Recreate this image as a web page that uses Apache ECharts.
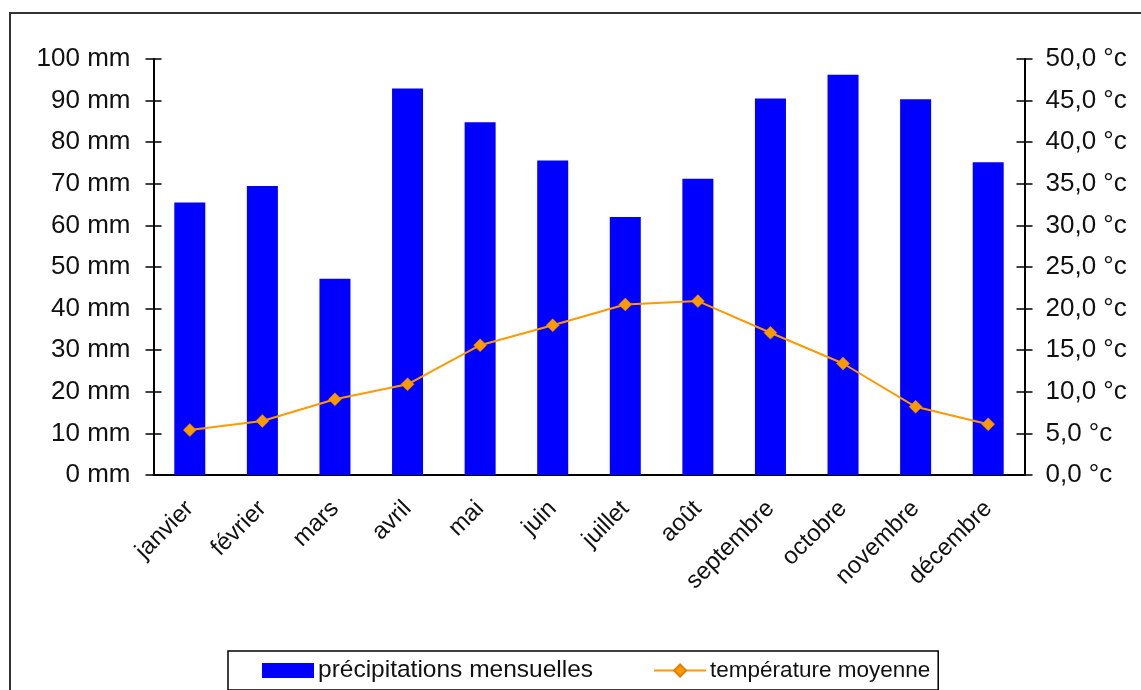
<!DOCTYPE html>
<html>
<head>
<meta charset="utf-8">
<script src="https://cdn.jsdelivr.net/npm/echarts@6/dist/echarts.min.js"></script>
<style>
    html, body { margin: 0; padding: 0; background: #fff; }
    #chart { width: 1141px; height: 690px; }
</style>
</head>
<body>
<div id="chart"></div>
<script>
    // mois
    const months = ['janvier', 'février', 'mars', 'avril', 'mai', 'juin',
        'juillet', 'août', 'septembre', 'octobre', 'novembre', 'décembre'];
    // précipitations (mm)
    const precipitations = [65.5, 69.5, 47.2, 92.9, 84.8, 75.6, 62.0, 71.2, 90.5, 96.2, 90.3, 75.2];
    // température (°c)
    const temperatures = [5.4, 6.5, 9.1, 10.9, 15.6, 18.0, 20.5, 20.9, 17.1, 13.4, 8.2, 6.1];

    const font = 'Liberation Sans';
    const tickStyle = { color: '#000', width: 1.5 };

    const chart = echarts.init(document.getElementById('chart'));

    const option = {
        animation: false,
        textStyle: { fontFamily: font },
        graphic: [{
            type: 'rect',
            shape: { x: 10, y: 13, width: 1150, height: 700 },
            style: { fill: 'none', stroke: '#333', lineWidth: 2 },
            silent: true
        }],
        grid: { left: 153.5, right: 116.5, top: 59, bottom: 215 },
        legend: {
            left: 228,
            top: 651,
            padding: [7, 8, 7, 34],
            itemGap: 60,
            itemWidth: 52,
            itemHeight: 15,
            borderColor: '#000',
            borderWidth: 1.5,
            textStyle: { fontFamily: font, fontSize: 24, color: '#111', padding: [0, 0, 0, -1] },
            data: [
                { name: 'précipitations mensuelles', icon: 'rect', textStyle: { fontSize: 24.5 } },
                { name: 'température moyenne', textStyle: { fontSize: 22.5 } }
            ]
        },
        xAxis: [{
            type: 'category',
            data: months,
            axisLine: { lineStyle: { color: '#000', width: 2 } },
            axisTick: { length: 8, lineStyle: tickStyle },
            axisLabel: { rotate: 45, margin: 30, fontSize: 24, color: '#111', interval: 0 }
        }, {
            // demi-graduations vers l'intérieur
            type: 'category',
            data: months,
            position: 'bottom',
            axisLine: { show: false },
            axisTick: { inside: true, length: 8, lineStyle: tickStyle },
            axisLabel: { show: false }
        }],
        yAxis: [{
            type: 'value',
            min: 0, max: 100, interval: 10,
            position: 'left',
            axisLine: { show: true, lineStyle: { color: '#000', width: 2 } },
            axisTick: { show: true, length: 8, lineStyle: tickStyle },
            splitLine: { show: false },
            axisLabel: { margin: 23, fontSize: 26, color: '#111', formatter: (v) => v + ' mm' }
        }, {
            type: 'value',
            min: 0, max: 50, interval: 5,
            position: 'right',
            axisLine: { show: true, lineStyle: { color: '#000', width: 2 } },
            axisTick: { show: true, length: 8, lineStyle: tickStyle },
            splitLine: { show: false },
            axisLabel: {
                margin: 21, fontSize: 26, color: '#111',
                formatter: (v) => v.toFixed(1).replace('.', ',') + ' °c'
            }
        }, {
            type: 'value',
            min: 0, max: 100, interval: 10,
            position: 'left',
            axisLine: { show: false },
            axisTick: { show: true, inside: true, length: 8, lineStyle: tickStyle },
            splitLine: { show: false },
            axisLabel: { show: false }
        }, {
            type: 'value',
            min: 0, max: 50, interval: 5,
            position: 'right',
            axisLine: { show: false },
            axisTick: { show: true, inside: true, length: 8, lineStyle: tickStyle },
            splitLine: { show: false },
            axisLabel: { show: false }
        }],
        series: [{
            name: 'précipitations mensuelles',
            type: 'bar',
            data: precipitations,
            yAxisIndex: 0,
            barWidth: 31,
            itemStyle: { color: '#0000FF' }
        }, {
            name: 'température moyenne',
            type: 'line',
            data: temperatures,
            yAxisIndex: 1,
            symbol: 'diamond',
            symbolSize: 13,
            lineStyle: { color: '#FF9900', width: 2 },
            itemStyle: { color: '#FF9900', borderColor: '#E08000', borderWidth: 0.5 }
        }]
    };

    chart.setOption(option);
</script>
</body>
</html>
